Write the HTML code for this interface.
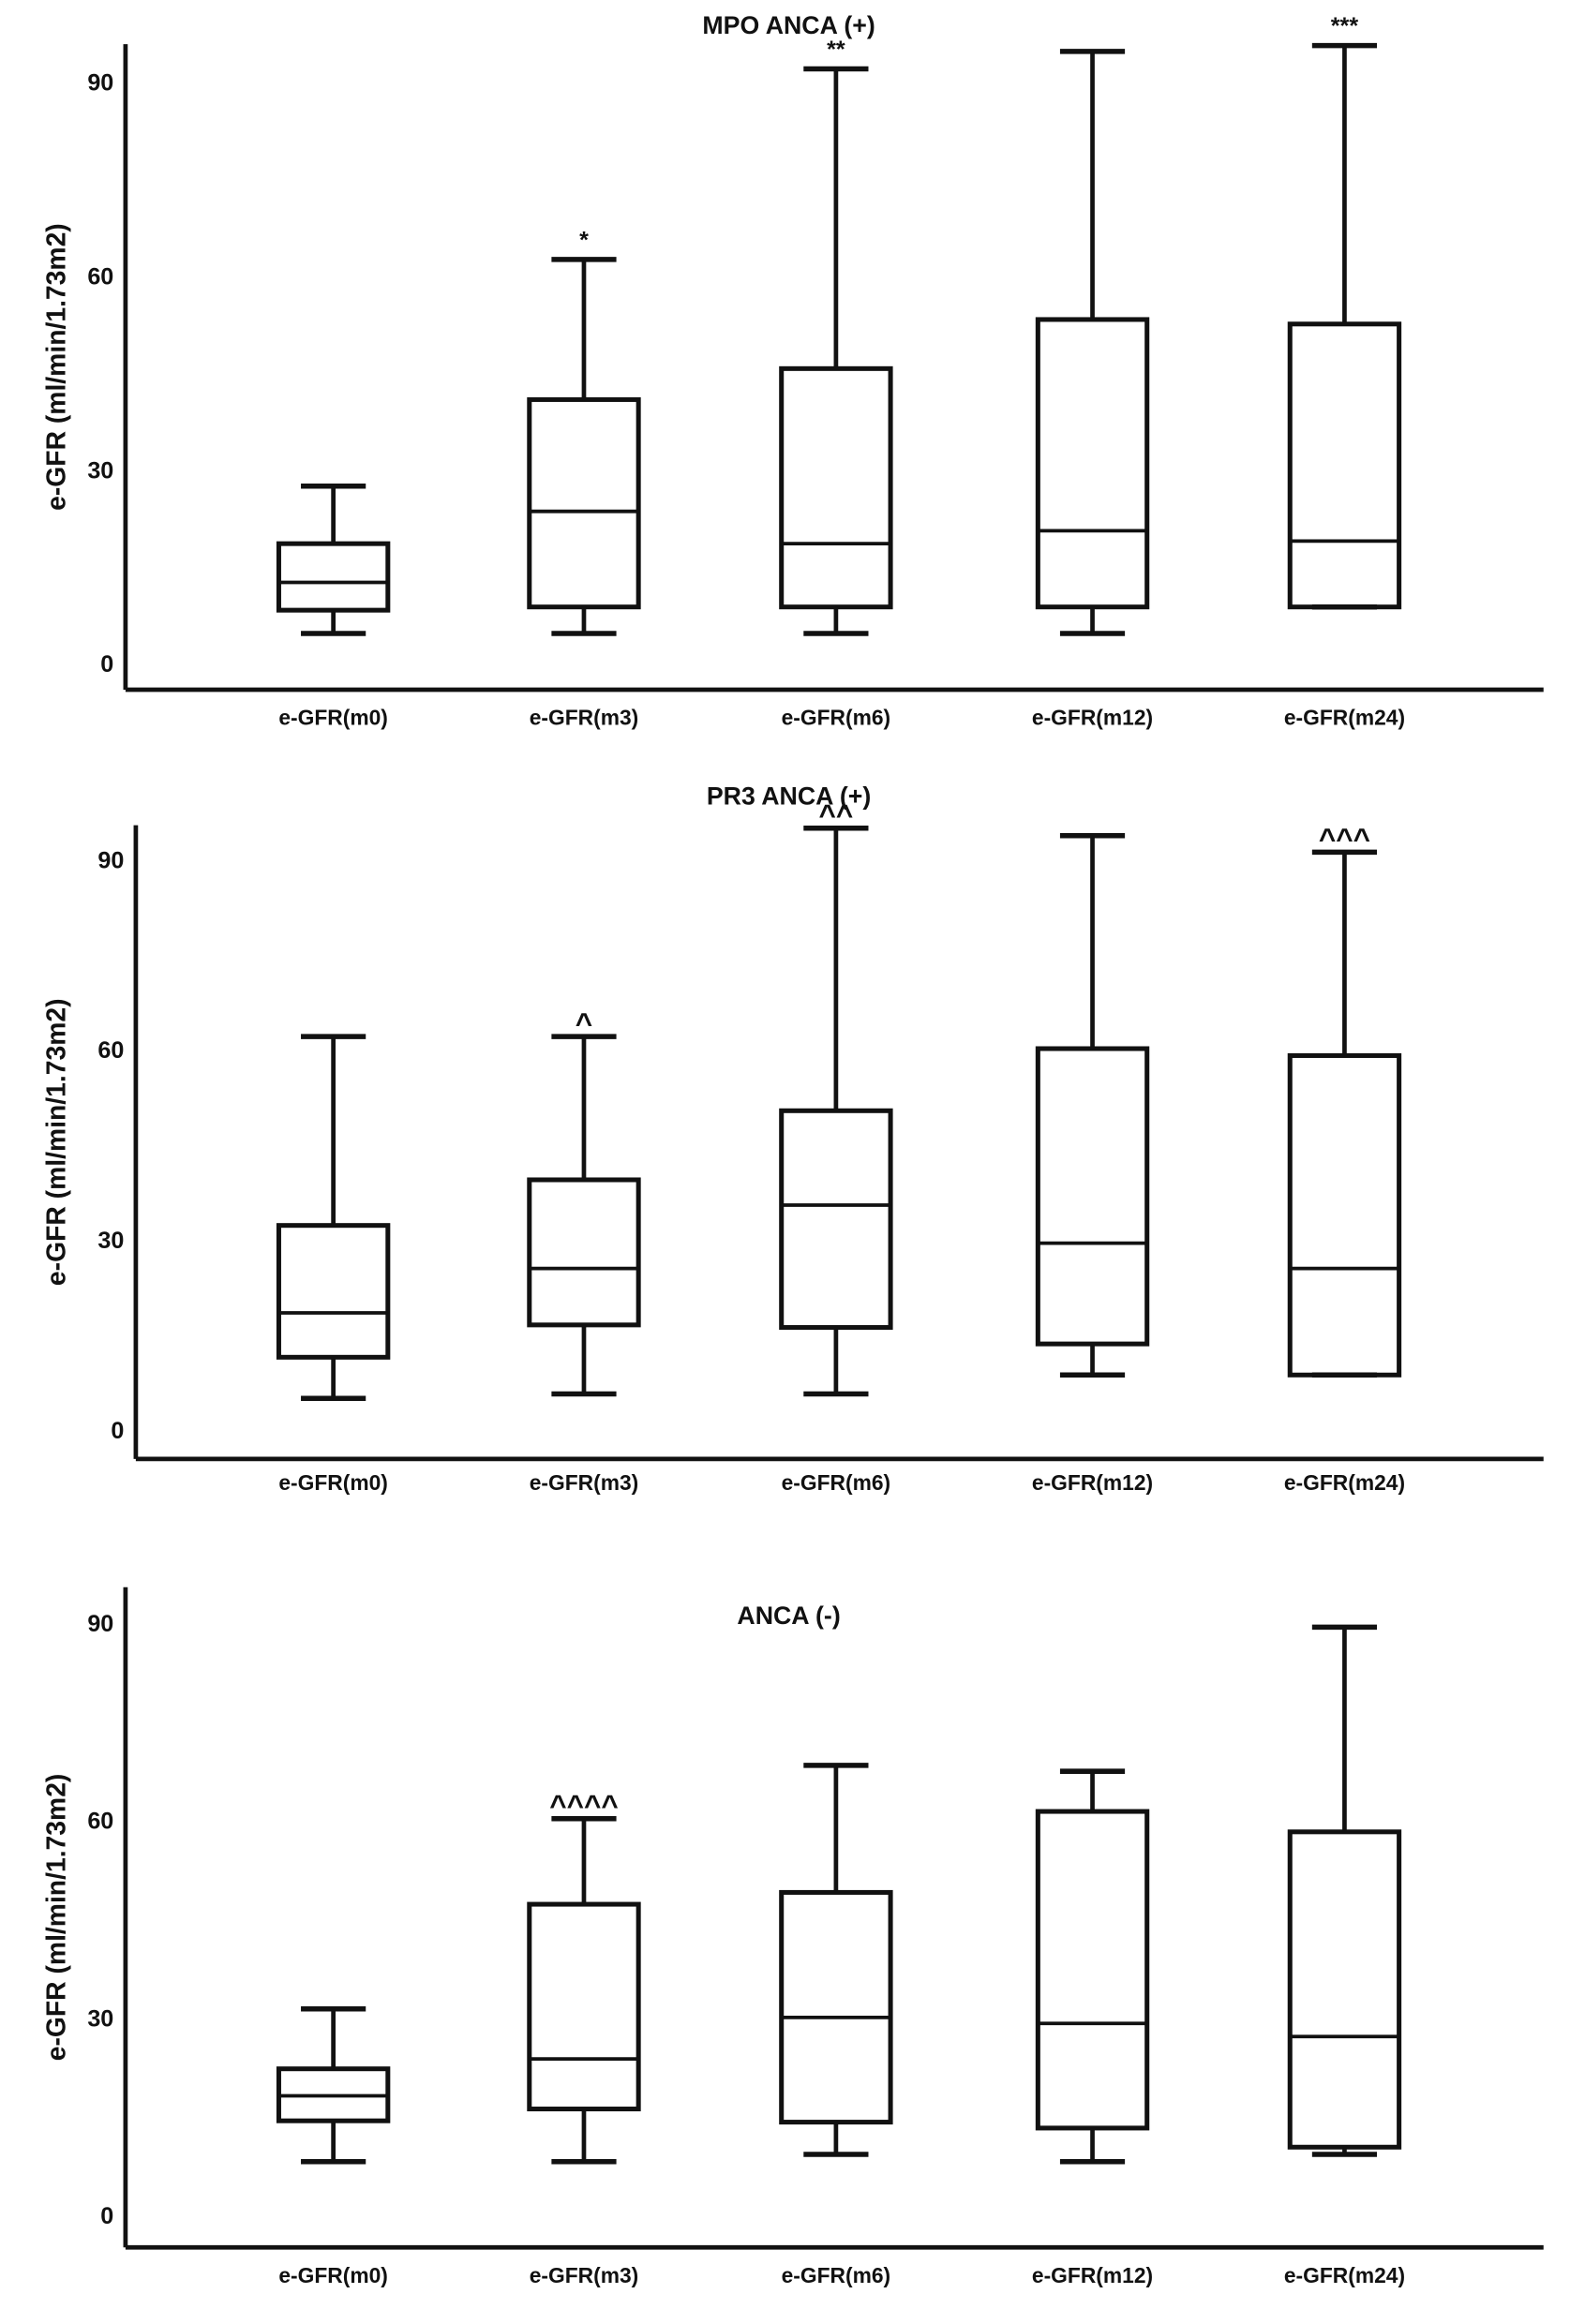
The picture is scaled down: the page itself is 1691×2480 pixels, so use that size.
<!DOCTYPE html>
<html><head><meta charset="utf-8"><style>
html,body{margin:0;padding:0;background:#fff}
svg{display:block}
text{font-family:"Liberation Sans",sans-serif;font-weight:bold;fill:#111}
</style></head><body>
<svg id="chart" width="1691" height="2480" viewBox="0 0 1075 1577" xmlns="http://www.w3.org/2000/svg"></svg>
<script>
const categories = ["e-GFR(m0)","e-GFR(m3)","e-GFR(m6)","e-GFR(m12)","e-GFR(m24)"];
const tickValues = [0,30,60,90];
const panelTitles = ["MPO ANCA (+)","PR3 ANCA (+)","ANCA (-)"];
// [min, q1, median, q3, max]
const mpoValues = [[4.6,8.2,12.5,18.5,27.4],[4.6,8.7,23.5,40.8,62.5],[4.6,8.7,18.5,45.6,92],[4.6,8.7,20.5,53.2,94.7],[8.7,8.7,18.9,52.5,95.6]];
const pr3Values = [[4.9,11.4,18.4,32.2,62],[5.6,16.5,25.4,39.4,62],[5.6,16.1,35.4,50.3,94.9],[8.6,13.5,29.4,60.1,93.7],[8.6,8.6,25.4,59,91.1]];
const negValues = [[8.1,14.3,18.1,22.2,31.3],[8.1,16.1,23.7,47.2,60.2],[9.2,14.1,30,49,68.3],[8.1,13.2,29.1,61.3,67.4],[9.2,10.3,27.1,58.2,89.3]];
const mpoMarks = ["","*","**","","***"];
const pr3Marks = ["","^","^^","","^^^"];
const negMarks = ["","^^^^","","",""];

const NS="http://www.w3.org/2000/svg";
const svg=document.getElementById('chart');
function mk(tag,attrs,parent){const e=document.createElementNS(NS,tag);for(const k in attrs)e.setAttribute(k,attrs[k]);(parent||svg).appendChild(e);return e;}

const panels=[
 {vals:mpoValues,marks:mpoMarks,axisX:85,axisTop:30,axisBottom:468,zeroY:450,per30:131.5,titleY:23,labelY:492,name:'mpo'},
 {vals:pr3Values,marks:pr3Marks,axisX:92,axisTop:560,axisBottom:990,zeroY:970,per30:129,titleY:546,labelY:1011,name:'pr3'},
 {vals:negValues,marks:negMarks,axisX:85,axisTop:1077,axisBottom:1525,zeroY:1503,per30:134,titleY:1102,labelY:1549,name:'anca-neg'}
];
const centers=[226,396,567,741,912];
panels.forEach((p,pi)=>{
  const g=mk('g',{});
  
  
  const y=v=>p.zeroY - v*p.per30/30;
  const xAxisL=mk('line',{x1:p.axisX,y1:p.axisBottom,x2:1047,y2:p.axisBottom,stroke:'#111','stroke-width':3},g);
  
  
  const yAxisL=mk('line',{x1:p.axisX,y1:p.axisTop,x2:p.axisX,y2:p.axisBottom,stroke:'#111','stroke-width':3},g);
  
  
  tickValues.forEach(t=>{
    const tx=mk('text',{x:p.axisX-8,y:y(t)+6,'text-anchor':'end','font-size':16},g);
    tx.textContent=t;
    
    
  });
  const yt=mk('text',{x:0,y:0,'text-anchor':'middle','font-size':18,transform:`translate(44,${(p.axisTop+p.axisBottom)/2}) rotate(-90)`},g);
  yt.textContent='e-GFR (ml/min/1.73m2)';
  
  
  const tt=mk('text',{x:535,y:p.titleY,'text-anchor':'middle','font-size':17},g);
  tt.textContent=panelTitles[pi];
  
  
  categories.forEach((c,i)=>{
    const cx=centers[i];
    const v=p.vals[i];
    const bg=mk('g',{},g);
    
    
    const hw=37, cw=22;
    mk('line',{x1:cx,y1:y(v[3]),x2:cx,y2:y(v[4]),stroke:'#111','stroke-width':3},bg);
    mk('line',{x1:cx,y1:y(v[0]),x2:cx,y2:y(v[1]),stroke:'#111','stroke-width':3},bg);
    mk('line',{x1:cx-cw,y1:y(v[4]),x2:cx+cw,y2:y(v[4]),stroke:'#111','stroke-width':3.5},bg);
    mk('line',{x1:cx-cw,y1:y(v[0]),x2:cx+cw,y2:y(v[0]),stroke:'#111','stroke-width':3.5},bg);
    mk('rect',{x:cx-hw,y:y(v[3]),width:2*hw,height:y(v[1])-y(v[3]),fill:'none',stroke:'#111','stroke-width':3.2},bg);
    mk('line',{x1:cx-hw,y1:y(v[2]),x2:cx+hw,y2:y(v[2]),stroke:'#111','stroke-width':2.4},bg);
    if(p.marks[i]){
      const isCaret=p.marks[i][0]==='^';
      const m=mk('text',{x:cx,y:y(v[4])-(isCaret?2:8),'text-anchor':'middle','font-size':isCaret?20:16},bg);
      m.textContent=p.marks[i];
      
      
    }
    const lb=mk('text',{x:cx,y:p.labelY,'text-anchor':'middle','font-size':14.5},g);
    lb.textContent=c;
    
    
  });
});
</script>
</body></html>
